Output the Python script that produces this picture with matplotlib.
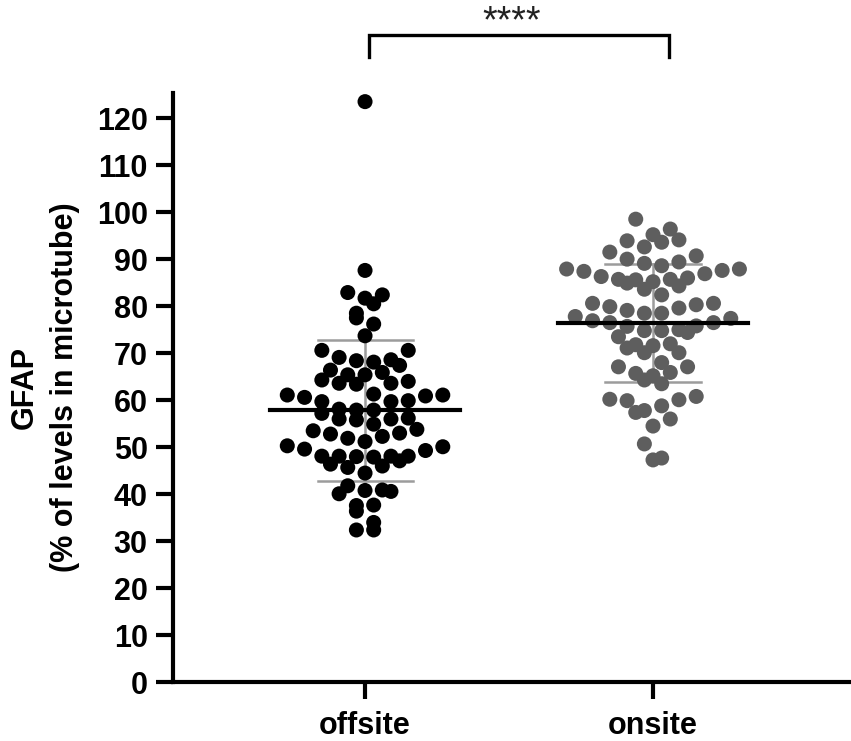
import numpy as np
import matplotlib.pyplot as plt

plt.rcParams['font.family'] = ['Liberation Sans', 'DejaVu Sans']

groups = ['offsite', 'onsite']

offsite = [123.5, 87.6, 82.9, 81.7, 82.4, 80.5, 78.5, 76.2, 77.5, 73.7,
           70.6, 70.6, 68.1, 67.4, 68.6, 69.1, 68.4, 66.4, 65.9, 65.4,
           65.4, 63.6, 63.4, 64.0, 63.6, 64.3, 61.1, 61.3, 60.6, 61.1,
           60.9, 59.7, 59.9, 59.7, 57.2, 58.1, 57.9, 57.9, 56.2, 56.0,
           55.8, 56.0, 54.9, 53.8, 53.0, 53.5, 52.3, 52.8, 51.9, 51.2,
           50.3, 50.1, 49.6, 49.3, 47.9, 48.0, 48.1, 48.1, 48.1, 48.1,
           47.1, 46.4, 45.7, 46.0, 44.5, 40.8, 40.9, 41.8, 40.1, 40.6,
           37.6, 36.4, 37.7, 34.0, 32.4, 32.4]

onsite = [98.5, 96.4, 93.6, 94.1, 93.9, 95.2, 91.5, 92.6, 90.7, 89.4,
          90.0, 87.9, 89.1, 88.6, 87.9, 87.6, 87.4, 86.9, 86.3, 86.0,
          85.2, 84.9, 85.7, 85.6, 85.7, 84.3, 83.6, 82.4, 80.6, 79.9,
          80.6, 80.3, 79.1, 78.5, 79.6, 78.5, 77.4, 77.8, 76.5, 76.9,
          76.5, 75.8, 75.7, 75.0, 74.8, 74.4, 74.8, 73.5, 71.8, 71.6,
          72.0, 71.1, 70.1, 70.1, 68.0, 67.1, 67.1, 65.9, 65.7, 65.2,
          64.3, 63.5, 60.8, 60.1, 59.9, 60.2, 57.4, 57.8, 58.8, 56.0,
          54.5, 50.7, 47.7, 47.3]

means = [57.9, 76.4]
sds = [15.0, 12.5]
signif = '****'

colors = ['#000000', '#5e5e5e']


def swarm(vals, step=0.06, binw=3.4):
    # prism-like scatter: values in one bin are spread side by side
    vals = np.asarray(vals)
    offs = np.zeros(len(vals))
    bins = np.floor(vals / binw).astype(int)
    for b in np.unique(bins):
        idx = np.where(bins == b)[0]
        idx = idx[np.argsort(vals[idx])]
        n = len(idx)
        slots = np.arange(n) - (n - 1) / 2
        # fill from the middle outwards, alternating sides
        slots = slots[np.argsort(np.abs(slots) + 0.01 * np.sign(slots) * ((b % 2) * 2 - 1))]
        offs[idx] = slots * step
    return offs


fig = plt.figure(figsize=(8.51, 7.41), dpi=100)
ax = fig.add_axes([0.2029, 0.0792, 0.7971, 0.7957])

for i, vals in enumerate([offsite, onsite]):
    vals = np.array(vals)
    x = i + swarm(vals)
    # sd bar behind the dots
    ax.plot([i, i], [means[i] - sds[i], means[i] + sds[i]], color='#9c9c9c', lw=1.8, zorder=1)
    for e in [means[i] - sds[i], means[i] + sds[i]]:
        ax.plot([i - 0.165, i + 0.165], [e, e], color='#9c9c9c', lw=1.8, zorder=1)
    ax.scatter(x, vals, s=117, color=colors[i], edgecolors='none', zorder=2)
    ax.plot([i - 0.33, i + 0.33], [means[i], means[i]], color='black', lw=3, zorder=3)

# significance bracket
bx = [0.014, 0.014, 1.056, 1.056]
by = [132.9, 137.7, 137.7, 132.9]
ax.plot(bx, by, color='black', lw=2.4, clip_on=False, solid_joinstyle='miter')
ax.text(0.51, 138.2, signif, ha='center', va='baseline', fontsize=27, color='#222222')

ax.set_xlim(-0.668, 1.6875)
ax.set_ylim(0, 125.4)
ax.set_yticks(np.arange(0, 121, 10))
ax.set_xticks([0, 1])
ax.set_xticklabels(groups, fontsize=22, fontweight='bold')
for lab in ax.get_yticklabels():
    lab.set_fontsize(22)
    lab.set_fontweight('bold')

for s in ['top', 'right']:
    ax.spines[s].set_visible(False)
for s in ['left', 'bottom']:
    ax.spines[s].set_linewidth(3)
ax.tick_params(length=12, width=3, pad=6)
ax.tick_params(axis='x', pad=9)

ax.set_ylabel('GFAP\n(% of levels in microtube)', fontsize=22, fontweight='bold',
              labelpad=12, linespacing=1.45)

fig.savefig('out.png', dpi=100)
